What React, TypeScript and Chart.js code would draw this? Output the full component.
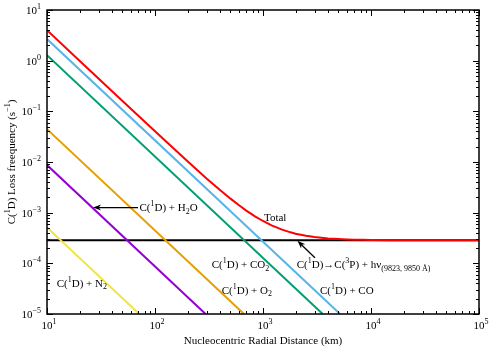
import { useEffect, useRef } from "react";
import { Chart, registerables } from "chart.js";

Chart.register(...registerables);

// ---- data ----
const totalX = [10, 20, 50, 100, 200, 300, 400, 500, 600, 700, 850, 1000, 1200, 1500, 1800, 2000, 2500, 3000, 4000, 5000, 6000, 7000, 8500, 10000, 15000, 20000, 30000, 50000, 100000];
const totalY = [4.0, 1.0, 0.16, 0.0403, 0.0103, 0.00473, 0.00279, 0.00189, 0.0014, 0.0011, 0.000839, 0.000685, 0.000563, 0.000463, 0.000409, 0.000385, 0.000349, 0.00033, 0.00031, 0.000301, 0.000296, 0.000293, 0.000291, 0.000289, 0.000287, 0.000286, 0.0002854, 0.000285, 0.000285];
const coX = [10, 5170];
const coY = [2.67, 1e-5];
const co2X = [10, 3570];
const co2Y = [1.28, 1e-5];
const o2X = [10, 667];
const o2Y = [0.0445, 1e-5];
const h2oX = [10, 294];
const h2oY = [0.0087, 1e-5];
const n2X = [10, 71.5];
const n2Y = [0.00051, 1e-5];
const radX = [10, 100000];
const radY = [0.000285, 0.000285];

const xMajor = [10, 100, 1000, 10000, 100000];
const xExp = ["1", "2", "3", "4", "5"];
const yMajor = [1e-5, 1e-4, 1e-3, 1e-2, 1e-1, 1, 10];
const yExp = ["\u22125", "\u22124", "\u22123", "\u22122", "\u22121", "0", "1"];

type Seg = { t: string; m: "n" | "sup" | "sub" };

const FONT = '"Liberation Serif", "Times New Roman", serif';

const labels: { segs: Seg[]; x: number; y: number }[] = [
  { segs: [{ t: "Total", m: "n" }], x: 1020, y: 7.9e-4 },
  { segs: [{ t: "C(", m: "n" }, { t: "1", m: "sup" }, { t: "D) + H", m: "n" }, { t: "2", m: "sub" }, { t: "O", m: "n" }], x: 71.8, y: 1.24e-3 },
  { segs: [{ t: "C(", m: "n" }, { t: "1", m: "sup" }, { t: "D) + CO", m: "n" }, { t: "2", m: "sub" }], x: 335, y: 9.3e-5 },
  { segs: [{ t: "C(", m: "n" }, { t: "1", m: "sup" }, { t: "D) + O", m: "n" }, { t: "2", m: "sub" }], x: 415, y: 2.87e-5 },
  { segs: [{ t: "C(", m: "n" }, { t: "1", m: "sup" }, { t: "D) + CO", m: "n" }], x: 3373, y: 2.87e-5 },
  { segs: [{ t: "C(", m: "n" }, { t: "1", m: "sup" }, { t: "D) + N", m: "n" }, { t: "2", m: "sub" }], x: 12.3, y: 3.94e-5 },
  {
    segs: [
      { t: "C(", m: "n" }, { t: "1", m: "sup" }, { t: "D)\u2192C(", m: "n" }, { t: "3", m: "sup" },
      { t: "P) + h\u03bd", m: "n" }, { t: "(9823, 9850 \u00c5)", m: "sub" },
    ],
    x: 2051, y: 9.3e-5,
  },
];

const arrows: { from: [number, number]; to: [number, number] }[] = [
  { from: [69.6, 1.26e-3], to: [26.7, 1.26e-3] },
  { from: [3027, 1.29e-4], to: [2084, 2.78e-4] },
];

function drawRich(ctx: CanvasRenderingContext2D, segs: Seg[], x: number, y: number, align: "left" | "center" | "right", size: number) {
  const small = Math.round(size * 0.72);
  const fontFor = (m: string) => `${m === "n" ? size : small}px ${FONT}`;
  let total = 0;
  const widths: number[] = [];
  for (const s of segs) {
    ctx.font = fontFor(s.m);
    const w = ctx.measureText(s.t).width;
    widths.push(w);
    total += w;
  }
  let cx = align === "left" ? x : align === "center" ? x - total / 2 : x - total;
  ctx.textAlign = "left";
  ctx.textBaseline = "middle";
  segs.forEach((s, i) => {
    ctx.font = fontFor(s.m);
    const dy = s.m === "sup" ? -size * 0.38 : s.m === "sub" ? size * 0.32 : 0;
    ctx.fillText(s.t, cx, y + dy);
    cx += widths[i];
  });
  return total;
}

function drawArrow(ctx: CanvasRenderingContext2D, x1: number, y1: number, x2: number, y2: number) {
  const ang = Math.atan2(y2 - y1, x2 - x1);
  const hl = 8, hw = 3;
  ctx.beginPath();
  ctx.moveTo(x1, y1);
  ctx.lineTo(x2 - Math.cos(ang) * hl * 0.6, y2 - Math.sin(ang) * hl * 0.6);
  ctx.lineWidth = 1.3;
  ctx.strokeStyle = "#000";
  ctx.stroke();
  ctx.beginPath();
  ctx.moveTo(x2, y2);
  ctx.lineTo(x2 - Math.cos(ang) * hl + Math.sin(ang) * hw, y2 - Math.sin(ang) * hl - Math.cos(ang) * hw);
  ctx.lineTo(x2 - Math.cos(ang) * hl * 0.7, y2 - Math.sin(ang) * hl * 0.7);
  ctx.lineTo(x2 - Math.cos(ang) * hl - Math.sin(ang) * hw, y2 - Math.sin(ang) * hl + Math.cos(ang) * hw);
  ctx.closePath();
  ctx.fillStyle = "#000";
  ctx.fill();
}

const decorPlugin = {
  id: "decor",
  afterDatasetsDraw(chart: any) {
    const ctx: CanvasRenderingContext2D = chart.ctx;
    const xs = chart.scales.x;
    const ys = chart.scales.y;
    const { left, right, top, bottom } = chart.chartArea;
    ctx.save();
    ctx.fillStyle = "#000";
    ctx.strokeStyle = "#000";

    // ticks (inside, on all four sides)
    ctx.lineWidth = 1;
    const majLen = 6, minLen = 3;
    ctx.beginPath();
    for (let d = 0; d < xMajor.length; d++) {
      for (let k = 1; k <= 9; k++) {
        const v = xMajor[d] * k;
        if (v > xMajor[xMajor.length - 1]) break;
        const px = Math.round(xs.getPixelForValue(v)) + 0.5;
        const len = k === 1 ? majLen : minLen;
        ctx.moveTo(px, bottom);
        ctx.lineTo(px, bottom - len);
        ctx.moveTo(px, top);
        ctx.lineTo(px, top + len);
      }
    }
    for (let d = 0; d < yMajor.length; d++) {
      for (let k = 1; k <= 9; k++) {
        const v = yMajor[d] * k;
        if (v > yMajor[yMajor.length - 1]) break;
        const py = Math.round(ys.getPixelForValue(v)) + 0.5;
        const len = k === 1 ? majLen : minLen;
        ctx.moveTo(left, py);
        ctx.lineTo(left + len, py);
        ctx.moveTo(right, py);
        ctx.lineTo(right - len, py);
      }
    }
    ctx.stroke();

    // frame
    ctx.lineWidth = 1.5;
    ctx.strokeRect(left, top, right - left, bottom - top);

    // tick labels
    const size = 11;
    xMajor.forEach((v, i) => {
      const px = xs.getPixelForValue(v);
      drawRich(ctx, [{ t: "10", m: "n" }, { t: xExp[i], m: "sup" }], px + 2, bottom + 12, "center", size);
    });
    yMajor.forEach((v, i) => {
      const py = ys.getPixelForValue(v);
      drawRich(ctx, [{ t: "10", m: "n" }, { t: yExp[i], m: "sup" }], left - 6, py + 1, "right", size);
    });

    // axis titles
    drawRich(ctx, [{ t: "Nucleocentric Radial Distance (km)", m: "n" }], (left + right) / 2, bottom + 27, "center", size);
    ctx.save();
    ctx.translate(12, (top + bottom) / 2);
    ctx.rotate(-Math.PI / 2);
    drawRich(ctx, [{ t: "C(", m: "n" }, { t: "1", m: "sup" }, { t: "D) Loss freequency (s", m: "n" }, { t: "\u22121", m: "sup" }, { t: ")", m: "n" }], 0, 0, "center", size);
    ctx.restore();

    // annotations
    labels.forEach((l) => {
      drawRich(ctx, l.segs, xs.getPixelForValue(l.x), ys.getPixelForValue(l.y), "left", size);
    });
    arrows.forEach((a) => {
      drawArrow(ctx, xs.getPixelForValue(a.from[0]), ys.getPixelForValue(a.from[1]), xs.getPixelForValue(a.to[0]), ys.getPixelForValue(a.to[1]));
    });
    ctx.restore();
  },
};

function series(label: string, xArr: number[], yArr: number[], color: string, order: number) {
  return {
    label,
    data: xArr.map((x, i) => ({ x, y: yArr[i] })),
    borderColor: color,
    backgroundColor: color,
    borderWidth: 2,
    pointRadius: 0,
    tension: 0,
    fill: false,
    order,
  };
}

export default function App() {
  const ref = useRef<HTMLCanvasElement | null>(null);
  useEffect(() => {
    document.body.style.margin = "0";
    if (!ref.current) return;
    const chart = new Chart(ref.current, {
      type: "line",
      data: {
        datasets: [
          series("Total", totalX, totalY, "#ff0000", 0),
          series("C(1D) + CO", coX, coY, "#56b4e9", 1),
          series("C(1D) + CO2", co2X, co2Y, "#009e73", 2),
          series("C(1D) + O2", o2X, o2Y, "#e69f00", 3),
          series("C(1D) + H2O", h2oX, h2oY, "#9400d3", 4),
          series("C(1D) + N2", n2X, n2Y, "#f0e442", 5),
          series("Radiative decay", radX, radY, "#000000", 6),
        ] as any,
      },
      options: {
        animation: false,
        responsive: false,
        devicePixelRatio: 1,
        layout: { padding: { left: 47, right: 21, top: 10, bottom: 36 } },
        plugins: { legend: { display: false }, tooltip: { enabled: false } },
        scales: {
          x: { type: "logarithmic", min: 10, max: 100000, display: false },
          y: { type: "logarithmic", min: 1e-5, max: 10, display: false },
        },
      },
      plugins: [decorPlugin],
    });
    return () => chart.destroy();
  }, []);
  return <canvas ref={ref} width={500} height={350} style={{ display: "block" }} />;
}
